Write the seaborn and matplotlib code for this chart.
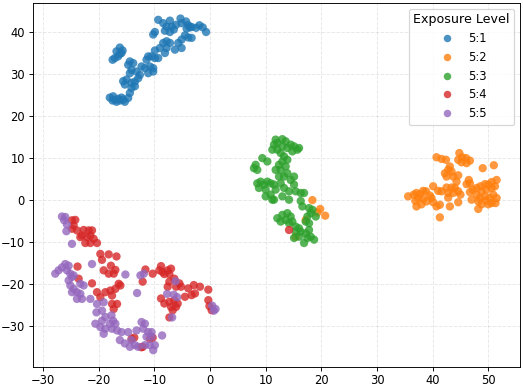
import matplotlib
matplotlib.use("Agg")
import matplotlib.pyplot as plt
import seaborn as sns
import pandas as pd

levels = ["5:1", "5:2", "5:3", "5:4", "5:5"]

x_51 = [-9.3, -8.4, -7.2, -7.8, -6.9, -6.1, -5.3, -5.1, -4.3, -3.9, -3.3, -2.5, -1.9, -1.3, -0.7,
        -8.1, -7.2, -6.5, -4.2, -3.6, -10.2, -9.9,
        -4.5, -3.9, -3.3, -5.1, -5.7, -5.1, -6.3, -7.2, -7.8, -8.4, -7.8, -8.1, -9.0, -9.9, -10.5,
        -11.1, -11.4, -9.9, -9.3,
        -16.2, -16.8, -15.9, -16.5, -17.1, -17.5, -15.7, -16.2,
        -14.4, -13.8, -14.7, -14.1, -14.4, -13.2, -12.3, -11.7, -10.8, -10.2, -11.1, -10.2, -12.6,
        -12.9, -13.5, -14.1, -15.0, -15.6, -15.3, -14.1, -13.5, -14.4, -14.7,
        -18.0, -17.4, -17.1, -16.5, -16.2, -15.6, -15.3, -17.5, -16.8, -15.9]
y_51 = [42.9, 42.1, 42.7, 41.3, 41.3, 41.7, 43.2, 42.1, 42.5, 41.6, 41.2, 41.0, 41.6, 41.1, 40.0,
        40.3, 40.0, 40.6, 40.8, 41.1, 39.4, 40.0,
        39.2, 38.7, 38.6, 38.2, 37.4, 36.2, 35.8, 37.4, 37.8, 37.4, 36.2, 35.0, 36.2, 35.6, 34.2,
        34.2, 33.4, 33.8, 33.8,
        36.3, 35.4, 35.0, 34.2, 33.8, 33.4, 35.6, 34.8,
        33.0, 32.6, 32.2, 31.0, 30.2, 30.6, 31.8, 31.4, 31.8, 31.4, 30.2, 30.6, 29.8,
        29.0, 28.2, 27.9, 28.7, 28.3, 27.5, 26.7, 27.1, 25.5, 24.3,
        24.4, 24.7, 23.9, 24.1, 23.7, 23.9, 23.4, 23.7, 23.4, 24.4]

x_52 = [40.7, 41.6, 42.4, 44.8, 44.6, 45.2, 46.0, 46.7, 46.1, 45.3, 43.1, 42.8, 43.4, 42.2, 42.5,
        43.7, 44.6, 44.3, 49.0, 51.0, 46.5, 46.1, 46.7, 51.5, 50.6, 50.0, 49.4, 48.6, 47.9, 47.2,
        46.7, 48.8, 49.7, 50.6, 51.2, 42.5, 43.4, 44.0, 42.8, 43.7, 44.6, 45.0, 41.6, 40.1, 41.0,
        39.5, 38.8, 38.3, 37.7, 37.1, 36.6, 35.6, 37.4, 38.3, 39.8, 36.9, 37.1, 38.0, 38.9, 40.1,
        40.7, 41.3, 42.8, 43.1, 44.6, 41.3, 47.9, 48.5, 47.0, 48.2, 49.4, 50.3, 50.9, 51.5, 50.0,
        48.8, 48.2, 51.3, 50.6, 49.6,
        18.4, 19.8, 20.7, 19.3, 17.2, 15.4]
y_52 = [10.2, 9.8, 9.6, 11.2, 9.6, 9.0, 10.0, 9.4, 8.8, 10.2, 8.0, 7.2, 6.8, 6.4, 5.6,
        5.6, 5.9, 4.4, 7.6, 8.3, 4.8, 3.8, 4.0, 4.8, 4.3, 3.7, 3.8, 3.3, 2.9, 2.5,
        1.9, 2.1, 2.5, 2.9, 3.3, 3.0, 3.0, 2.9, 1.7, 1.7, 2.1, 1.3, 2.1, 3.3, 2.2,
        1.1, 2.1, 2.2, 1.4, 1.7, 1.3, 0.9, 0.5, 0.3, 0.5, -0.2, -1.5, -1.0, -0.3, -0.5,
        -1.5, -1.1, 0.6, -1.5, -0.5, -4.1, 1.3, 0.5, 0.1, -0.3, 0.9, 0.5, 1.3, 0.5, -1.0,
        -1.0, -2.1, -0.7, -0.7, -0.1,
        0.0, -2.1, -3.7, -2.9, -4.7, -8.7]

x_53 = [11.8, 11.5, 12.1, 13.0, 13.6, 11.2, 12.1, 13.0, 13.9, 14.5, 15.1, 15.7, 16.0, 14.8, 12.7,
        13.3, 13.9, 8.2, 7.9, 8.5, 9.4, 10.3, 13.0, 12.4, 11.8, 12.7, 13.6, 13.9, 13.3, 12.4,
        14.5, 15.1, 8.5, 9.1, 9.7, 10.3, 10.9, 8.8, 10.0, 11.5, 11.8, 12.7, 13.3, 14.2, 15.4,
        16.3, 15.1, 10.0, 10.9, 11.5, 13.0, 14.2, 16.3, 16.9, 16.6, 11.2,
        12.1, 13.0, 13.9, 14.5, 12.7, 13.6, 14.2, 14.8, 15.4, 16.0, 15.4, 16.3, 17.2, 17.8, 18.1,
        17.5, 18.7, 16.9, 16.0, 15.1, 17.8, 18.4, 17.5, 18.1, 17.2, 19.0, 17.8]
y_53 = [14.4, 13.2, 13.6, 14.5, 14.0, 12.0, 12.0, 12.8, 12.4, 13.2, 12.8, 12.0, 12.4, 11.6, 11.2,
        10.4, 9.6, 8.4, 7.6, 7.2, 10.0, 9.2, 9.2, 8.4, 7.2, 7.2, 8.0, 6.4, 5.6, 5.6,
        4.8, 5.6, 4.0, 4.4, 3.7, 4.4, 4.0, 2.9, 2.5, 3.7, 2.5, 4.0, 2.9, 2.1, 2.1,
        1.7, 3.7, 0.9, 1.3, 0.1, 0.9, 0.1, -0.2, 1.7, -1.5, 0.1,
        -4.3, -3.5, -3.1, -3.9, -5.1, -4.7, -5.5, -5.1, -6.3, -6.7, -7.5, -7.5, -7.9, -7.1, -8.7,
        -9.0, -9.4, -10.2, -8.7, -9.0, -1.9, -2.3, -3.9, -3.1, -5.1, -3.9, -5.5]

x_54 = [-24.8, -24.2, -24.5, -24.8, -23.9, -23.3, -22.7, -21.8, -21.2, -21.5, -22.1, -20.9, -22.4,
        -21.5, -20.3, -23.0,
        -19.7, -18.2, -16.8, -19.4, -23.8, -17.8, -19.1, -18.2, -17.3, -17.0, -23.6, -21.2, -16.4,
        -16.1, -17.0, -17.9, -18.8, -20.3, -19.7, -17.6, -17.6, -16.7, -17.3, -14.1, -12.3, -10.8,
        -11.6, -10.3, -8.8, -9.1, -8.5, -7.6, -7.0, -7.3, -8.2, -12.1, -7.3, -6.4, -5.5, -5.2, -6.1,
        -7.6, -3.9, -2.9, -1.8, -0.3, -2.7, -3.3, -4.5, -8.8, -8.2, -7.3, -6.4, -5.8, -6.1, -7.0,
        -6.7, -7.3, -0.3, -0.1, 0.3, -10.3, -12.1, -13.6,
        14.2]
y_54 = [-4.8, -4.7, -6.0, -6.8, -7.2, -8.8, -7.1, -7.2, -7.2, -8.4, -8.8, -9.2, -10.2,
        -10.2, -10.2, -8.4,
        -12.8, -12.9, -13.4, -14.2, -15.8, -15.6, -16.7, -17.5, -17.5, -16.6, -18.7, -19.8, -19.9,
        -20.3, -21.1, -21.5, -21.9, -21.9, -23.1, -22.7, -24.7, -24.7, -25.9, -33.0, -35.0, -33.0,
        -16.5, -17.5, -15.7, -16.7, -17.1, -16.7, -16.3, -17.6, -17.6, -19.4, -19.4, -18.7, -19.8,
        -20.6, -20.6, -20.6, -21.0, -20.2, -20.6, -21.3, -22.2, -22.6, -23.0, -23.4, -24.6, -24.2,
        -23.8, -24.6, -25.4, -25.4, -26.2, -27.9, -23.8, -25.2, -26.2, -32.7, -34.9, -32.7,
        -7.1]

x_55 = [-26.6, -26.0, -26.2, -25.7, -25.8, -24.8, -21.2,
        -27.8, -27.2, -26.6, -26.0, -25.4, -25.7, -25.1, -24.8, -25.4, -25.1, -24.5, -24.8, -23.9,
        -23.3, -23.9, -23.0, -23.3, -22.7, -21.5, -24.5,
        -20.3, -19.1, -20.4, -19.4, -18.8, -19.4, -17.7, -17.4, -18.0, -20.6, -19.7, -18.8, -17.6,
        -16.7, -17.0, -19.1, -15.9, -14.7, -16.2, -15.3, -14.1, -13.5, -14.4, -12.9, -13.2, -12.3,
        -11.7, -12.0, -11.1, -10.5, -11.4, -10.5, -9.9, -10.8, -8.6, -10.2, -11.7,
        -15.2, -12.5, -11.9, -13.1, -6.2, -7.7, -6.5, -5.9, -6.8, 0.4, 1.0, 0.7]
y_55 = [-3.9, -4.0, -4.8, -5.8, -7.4, -10.4, -15.2,
        -17.5, -16.7, -16.0, -15.2, -15.6, -16.7, -17.5, -18.3, -19.1, -20.3, -21.1, -21.9, -21.9,
        -22.3, -23.5, -23.5, -19.9, -20.3, -23.5, -17.9,
        -24.7, -24.3, -26.7, -26.3, -27.8, -28.7, -27.4, -28.7, -29.4, -29.4, -30.2, -30.6, -30.6,
        -31.0, -29.4, -31.8, -31.4, -31.4, -33.3, -34.1, -33.3, -34.5, -34.9, -34.9, -31.0, -29.0,
        -29.4, -30.6, -31.4, -31.4, -32.5, -32.5, -34.5, -34.5, -32.2, -35.7, -34.5,
        -17.7, -17.9, -17.5, -22.1, -19.3, -22.3, -22.5, -23.1, -27.9, -25.1, -25.9, -26.3]

xs = [x_51, x_52, x_53, x_54, x_55]
ys = [y_51, y_52, y_53, y_54, y_55]
rows = []
for lab, xv, yv in zip(levels, xs, ys):
    for a, b in zip(xv, yv):
        rows.append({"x": a, "y": b, "Exposure Level": lab})
df = pd.DataFrame(rows)

plt.rcParams["font.family"] = ["DejaVu Sans"]
DPI = 83
fig, ax = plt.subplots(figsize=(523 / DPI, 386 / DPI), dpi=DPI)
fig.subplots_adjust(left=33/523, right=520/523, top=1-3/386, bottom=1-367/386)

sns.scatterplot(data=df, x="x", y="y", hue="Exposure Level", hue_order=levels,
                palette="tab10", s=52, alpha=0.8, linewidth=0, ax=ax)

ax.set_xlim(-31.8, 55.7)
ax.set_ylim(-39.7, 46.9)
ax.set_xticks([-30, -20, -10, 0, 10, 20, 30, 40, 50])
ax.set_yticks([-30, -20, -10, 0, 10, 20, 30, 40])
ax.grid(True, linestyle="--", alpha=0.3)
ax.set_axisbelow(True)
ax.set_xlabel("")
ax.set_ylabel("")
ax.tick_params(labelsize=10)
ax.tick_params(axis="x", pad=2.2)
leg = ax.legend(title="Exposure Level", loc="upper right", fontsize=10, title_fontsize=11,
                markerscale=0.9)
fig.savefig("out.png", dpi=DPI)
